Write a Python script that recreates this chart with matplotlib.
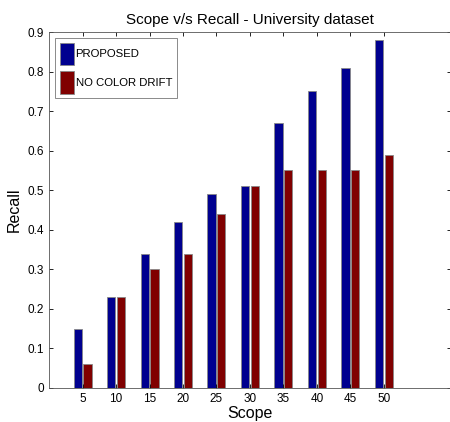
import matplotlib
matplotlib.use('Agg')
import matplotlib.pyplot as plt
import numpy as np

# data
scope = [5, 10, 15, 20, 25, 30, 35, 40, 45, 50]
proposed = [0.15, 0.23, 0.34, 0.42, 0.49, 0.51, 0.67, 0.75, 0.81, 0.88]
no_color_drift = [0.06, 0.23, 0.30, 0.34, 0.44, 0.51, 0.55, 0.55, 0.55, 0.59]
yticks = [0, 0.1, 0.2, 0.3, 0.4, 0.5, 0.6, 0.7, 0.8, 0.9]

plt.rcParams.update({'font.family': ['Liberation Sans', 'DejaVu Sans'], 'font.size': 8})

fig = plt.figure(figsize=(4.5, 4.22), dpi=100)
ax = fig.add_axes([0.109, 0.0806, 0.893, 0.8434])

x = np.array(scope, dtype=float)
w = 1.25
ax.bar(x - 0.72, proposed, width=w, color=(0, 0, 0.5625), edgecolor='#888888',
       linewidth=0.6, label='PROPOSED')
ax.bar(x + 0.72, no_color_drift, width=w, color=(0.5, 0, 0), edgecolor='#888888',
       linewidth=0.6, label='NO COLOR DRIFT')

ax.set_xlim(0, 60)
ax.set_ylim(0, 0.9)
ax.set_xticks(scope)
ax.set_xticklabels([str(s) for s in scope])
ax.set_yticks(yticks)
ax.set_yticklabels(['0'] + ['%g' % v for v in yticks[1:]])
ax.tick_params(direction='in', top=True, right=True, length=3, width=0.6,
               labelsize=8.5, colors='black')
for s in ax.spines.values():
    s.set_linewidth(0.6)
    s.set_color('#555555')

ax.set_title('Scope v/s Recall - University dataset', fontsize=11, pad=6)
ax.set_xlabel('Scope', fontsize=11.5, labelpad=1)
ax.set_ylabel('Recall', fontsize=11.5, labelpad=4)

leg = ax.legend(loc='upper left', bbox_to_anchor=(0.015, 0.983), fontsize=8.2,
                frameon=True, fancybox=False, handlelength=1.3, handleheight=2.7,
                handletextpad=0.1, borderpad=0.4, labelspacing=0.5,
                borderaxespad=0)
leg.get_frame().set_edgecolor('#555555')
leg.get_frame().set_linewidth(0.6)

fig.savefig('out.png', dpi=100)
